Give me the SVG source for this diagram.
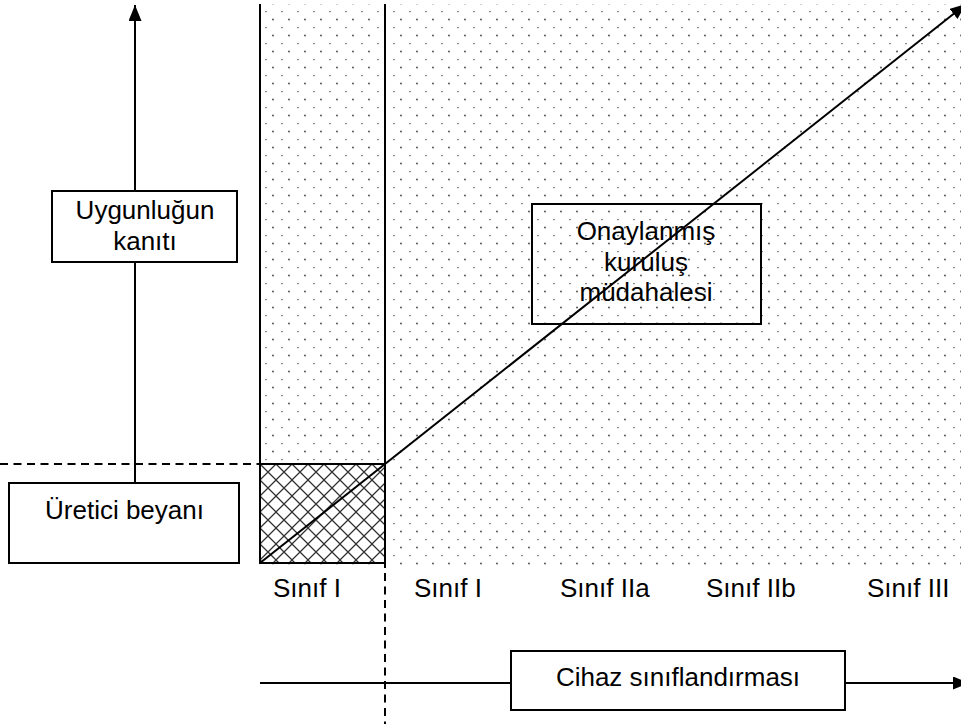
<svg xmlns="http://www.w3.org/2000/svg" width="961" height="724" viewBox="0 0 961 724">
<style>
.t{font-family:"Liberation Sans",Arial,sans-serif;font-size:26px;fill:#000}
.c{text-anchor:middle}
.box{fill:#fff;stroke:#000;stroke-width:2}
.obox{fill:none;stroke:#000;stroke-width:2}
.ln{stroke:#000;stroke-width:2;fill:none}
.dash{stroke:#000;stroke-width:2;fill:none;stroke-dasharray:8 5.5}
</style>
<defs>
<pattern id="dots" patternUnits="userSpaceOnUse" x="0" y="0" width="16" height="16">
<circle cx="1" cy="3.5" r="1" fill="#555"/>
<rect x="9" y="11" width="2" height="1.2" fill="#888"/>
</pattern>
<pattern id="hatch" patternUnits="userSpaceOnUse" x="260" y="464" width="16" height="16">
<path d="M0,0 L16,16 M0,16 L16,0" stroke="#333" stroke-width="1.3" fill="none"/>
</pattern>
<marker id="arr" viewBox="0 0 16 13" refX="16" refY="6.5" markerWidth="16" markerHeight="13" markerUnits="userSpaceOnUse" orient="auto">
<path d="M0,0 L16,6.5 L0,13 z" fill="#000"/>
</marker>
</defs>
<g id="background">
<rect x="260" y="4" width="701" height="561" fill="url(#dots)"/>
</g>
<g id="manufacturer-zone">
<rect x="260" y="464" width="125" height="99" fill="#fff"/>
<rect x="260" y="464" width="125" height="99" fill="url(#hatch)" stroke="#000" stroke-width="2"/>
</g>
<g id="connectors">
<line class="ln" x1="260" y1="4" x2="260" y2="563"/>
<line class="ln" x1="385" y1="4" x2="385" y2="568"/>
<line class="dash" x1="385" y1="573" x2="385" y2="724"/>
<line class="dash" x1="0" y1="464" x2="260" y2="464"/>
<line class="ln" x1="135" y1="191" x2="135" y2="5" marker-end="url(#arr)"/>
<line class="ln" x1="135" y1="262" x2="135" y2="483"/>
<line class="ln" x1="260" y1="563" x2="966" y2="4" marker-end="url(#arr)"/>
<line class="ln" x1="260" y1="683" x2="511" y2="683"/>
<line class="ln" x1="845" y1="683" x2="969" y2="683" marker-end="url(#arr)"/>
</g>
<g id="node-uygunlugun">
<rect class="box" x="52" y="191" width="185" height="71"/>
<text class="t c" x="145" y="219">Uygunluğun</text>
<text class="t c" x="145" y="250">kanıtı</text>
</g>
<g id="node-uretici">
<rect class="box" x="9" y="483" width="230" height="80"/>
<text class="t c" x="124.5" y="519">Üretici beyanı</text>
</g>
<g id="node-onaylanmis">
<rect class="obox" x="532" y="204" width="229" height="120"/>
<text class="t c" x="646" y="240">Onaylanmış</text>
<text class="t c" x="646" y="270.5">kuruluş</text>
<text class="t c" x="646" y="301">müdahalesi</text>
</g>
<g id="node-cihaz">
<rect class="box" x="511" y="651" width="334" height="59"/>
<text class="t c" x="678" y="686">Cihaz sınıflandırması</text>
</g>
<g id="labels">
<text class="t" x="273" y="597">Sınıf I</text>
<text class="t" x="414" y="597">Sınıf I</text>
<text class="t" x="560" y="597">Sınıf IIa</text>
<text class="t" x="706" y="597">Sınıf IIb</text>
<text class="t" x="867" y="597">Sınıf III</text>
</g>
</svg>
